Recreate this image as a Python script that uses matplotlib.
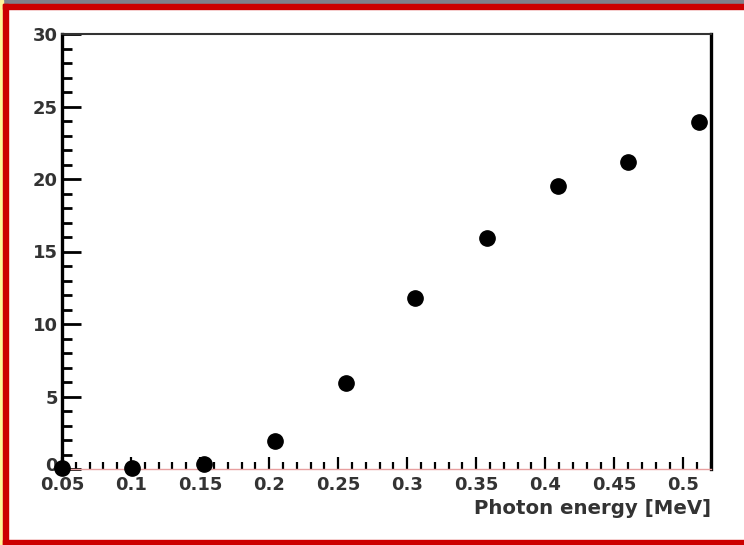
import matplotlib.pyplot as plt
from matplotlib.patches import Rectangle
from matplotlib.ticker import MultipleLocator
from matplotlib.transforms import ScaledTranslation

energy = [0.05, 0.101, 0.153, 0.204, 0.256, 0.306, 0.358, 0.409, 0.460, 0.511]
value = [0.1, 0.1, 0.35, 1.9, 5.9, 11.8, 15.9, 19.5, 21.2, 23.9]

xticks = [0.05, 0.1, 0.15, 0.2, 0.25, 0.3, 0.35, 0.4, 0.45, 0.5]
xtick_labels = ['0.05', '0.1', '0.15', '0.2', '0.25', '0.3', '0.35', '0.4', '0.45', '0.5']
yticks = [0, 5, 10, 15, 20, 25, 30]

W, H = 744, 545
fig = plt.figure(figsize=(W / 100, H / 100), dpi=100)
plt.rcParams['font.family'] = ['DejaVu Sans']

# page decoration around the plot
def px_rect(x, y, w, h, color):
    fig.patches.append(Rectangle((x / W, 1 - (y + h) / H), w / W, h / H,
                                 transform=fig.transFigure, color=color, zorder=0))

px_rect(0, 0, W, 4, '#80808a')
px_rect(0, 0, 3, H, '#fff59a')
px_rect(3, 4, W - 3, 5, '#cc0000')
px_rect(3, 4, 5, H - 4, '#cc0000')
px_rect(3, 540, W - 3, 5, '#cc0000')

ax = fig.add_axes([62 / W, (H - 469) / H, (711 - 62) / W, (469 - 34) / H])
ax.plot(energy, value, 'o', color='black', ms=11, clip_on=False, zorder=5)

ax.set_xlim(0.05, 0.52)
ax.set_ylim(0, 30)
ax.set_xticks(xticks)
ax.set_xticklabels(xtick_labels)
ax.set_yticks(yticks)
ax.xaxis.set_minor_locator(MultipleLocator(0.01))
ax.yaxis.set_minor_locator(MultipleLocator(1))

ax.tick_params(axis='both', which='both', direction='in', colors='black',
               labelcolor='#333333', labelsize=13)
ax.tick_params(axis='y', which='major', length=14, width=2, pad=3)
ax.tick_params(axis='y', which='minor', length=7, width=2)
ax.tick_params(axis='x', which='major', length=9, width=1.6, pad=5)
ax.tick_params(axis='x', which='minor', length=5, width=1.6)
for lab in ax.get_xticklabels() + ax.get_yticklabels():
    lab.set_fontweight('bold')
# lift the y "0" a little so it clears the "0.05" below it
zero = ax.get_yticklabels()[0]
zero.set_transform(zero.get_transform() + ScaledTranslation(0, 5 / 100, fig.dpi_scale_trans))

ax.spines['left'].set_linewidth(2.4)
ax.spines['right'].set_linewidth(2.4)
ax.spines['top'].set_linewidth(1.5)
ax.spines['top'].set_color('#333333')
ax.spines['bottom'].set_linewidth(1)
ax.spines['bottom'].set_color('#e8a0a0')

ax.set_xlabel('Photon energy [MeV]', fontsize=14.2, fontweight='bold',
              color='#333333', loc='right', labelpad=4)

fig.savefig('out.png', dpi=100)
